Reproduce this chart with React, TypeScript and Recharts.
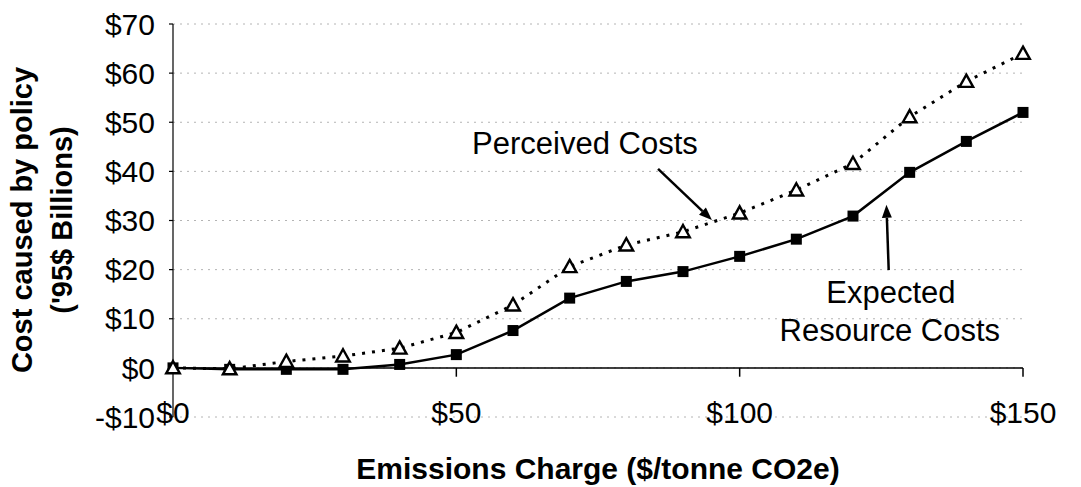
import React from 'react';
import { LineChart, Line, XAxis, YAxis, CartesianGrid, ReferenceLine, ReferenceDot } from 'recharts';

const charges = [0, 10, 20, 30, 40, 50, 60, 70, 80, 90, 100, 110, 120, 130, 140, 150];
const expectedCosts = [0, -0.3, -0.3, -0.3, 0.7, 2.7, 7.6, 14.2, 17.6, 19.6, 22.7, 26.2, 30.9, 39.8, 46.1, 52.0];
const perceivedCosts = [0, -0.2, 1.3, 2.4, 4.0, 7.2, 12.8, 20.6, 25.0, 27.7, 31.5, 36.2, 41.6, 51.1, 58.3, 64.0];
const xTicks = [0, 50, 100, 150];
const yTicks = [-10, 0, 10, 20, 30, 40, 50, 60, 70];

const data = charges.map((c, i) => ({ charge: c, expected: expectedCosts[i], perceived: perceivedCosts[i] }));

const FONT = '"Liberation Sans", Arial, sans-serif';

const SquareDot = (props: any) => {
  const { cx, cy, index } = props;
  return <rect key={`sq-${index}`} x={cx - 5.5} y={cy - 5.5} width={11} height={11} fill="#000" />;
};

const TriangleDot = (props: any) => {
  const { cx, cy, index } = props;
  const s = 6.8;
  return (
    <polygon
      key={`tr-${index}`}
      points={`${cx},${cy - s} ${cx + s},${cy + s * 0.8} ${cx - s},${cy + s * 0.8}`}
      fill="#fff"
      stroke="#000"
      strokeWidth={2.4}
    />
  );
};

const Arrow = (props: any) => {
  const { x1, y1, x2, y2 } = props;
  const ang = Math.atan2(y2 - y1, x2 - x1);
  const len = 13;
  const w = 5;
  const bx = x2 - len * Math.cos(ang);
  const by = y2 - len * Math.sin(ang);
  const px = -Math.sin(ang) * w;
  const py = Math.cos(ang) * w;
  return (
    <g>
      <line x1={x1} y1={y1} x2={bx} y2={by} stroke="#000" strokeWidth={2.5} />
      <polygon points={`${x2},${y2} ${bx + px},${by + py} ${bx - px},${by - py}`} fill="#000" />
    </g>
  );
};

const Note = (text: string) => (props: any) => (
  <text x={props.cx} y={props.cy} dy="0.35em" textAnchor="middle" fontSize={31} fontFamily={FONT} fill="#000">
    {text}
  </text>
);

const XTick = (props: any) => {
  const { x, y, payload } = props;
  return (
    <text x={x} y={y} dy={6} textAnchor="middle" fontSize={30} fontFamily={FONT} fill="#000">
      ${payload.value}
    </text>
  );
};

export default function App() {
  return (
    <div style={{ position: 'absolute', left: 0, top: 0, width: 1081, height: 487, background: '#fff' }}>
      <LineChart width={1081} height={487} data={data} margin={{ top: 24, right: 58, bottom: 0, left: 0 }}>
        <CartesianGrid horizontal vertical={false} stroke="#b4b4b4" strokeDasharray="2 5" />
        <XAxis
          dataKey="charge"
          type="number"
          domain={[0, 150]}
          ticks={xTicks}
          height={70}
          axisLine={false}
          tickLine={false}
          tickSize={0}
          tickMargin={0}
          tick={<XTick />}
          label={{
            value: 'Emissions Charge ($/tonne CO2e)',
            position: 'insideBottom',
            offset: 8,
            fontSize: 30,
            fontWeight: 'bold',
            fontFamily: FONT,
            fill: '#000',
          }}
        />
        <YAxis
          type="number"
          domain={[-10, 70]}
          ticks={yTicks}
          width={173}
          axisLine={{ stroke: '#000', strokeWidth: 1.2 }}
          tickLine={{ stroke: '#000', strokeWidth: 1.2 }}
          tickSize={4}
          tickMargin={14}
          tickFormatter={(v: number) => (v < 0 ? `-$${-v}` : `$${v}`)}
          tick={{ fontSize: 30, fontFamily: FONT, fill: '#000' }}
          label={{
            content: () => (
              <g fontFamily={FONT} fontSize={29} fontWeight="bold" fill="#000">
                <text transform="translate(32,220) rotate(-90)" textAnchor="middle">Cost caused by policy</text>
                <text transform="translate(72,220) rotate(-90)" textAnchor="middle">('95$ Billions)</text>
              </g>
            ),
          }}
        />
        <ReferenceLine y={0} stroke="#000" strokeWidth={1.5} />
        {xTicks.slice(1).map((t) => (
          <ReferenceLine key={t} segment={[{ x: t, y: 0 }, { x: t, y: -1.8 }]} stroke="#000" strokeWidth={1.5} />
        ))}
        <Line
          dataKey="expected"
          type="linear"
          stroke="#000"
          strokeWidth={2.5}
          dot={SquareDot}
          isAnimationActive={false}
        />
        <Line
          dataKey="perceived"
          type="linear"
          stroke="#000"
          strokeWidth={3}
          strokeDasharray="3 7"
          dot={TriangleDot}
          isAnimationActive={false}
        />
        <ReferenceLine segment={[{ x: 85.6, y: 40.5 }, { x: 95.1, y: 30.1 }]} shape={Arrow} />
        <ReferenceLine segment={[{ x: 126.3, y: 19.9 }, { x: 125.9, y: 33.2 }]} shape={Arrow} />
        <ReferenceDot x={72.7} y={45.8} r={0} shape={Note('Perceived Costs')} />
        <ReferenceDot x={126.7} y={15.5} r={0} shape={Note('Expected')} />
        <ReferenceDot x={126.5} y={7.7} r={0} shape={Note('Resource Costs')} />
      </LineChart>
    </div>
  );
}
